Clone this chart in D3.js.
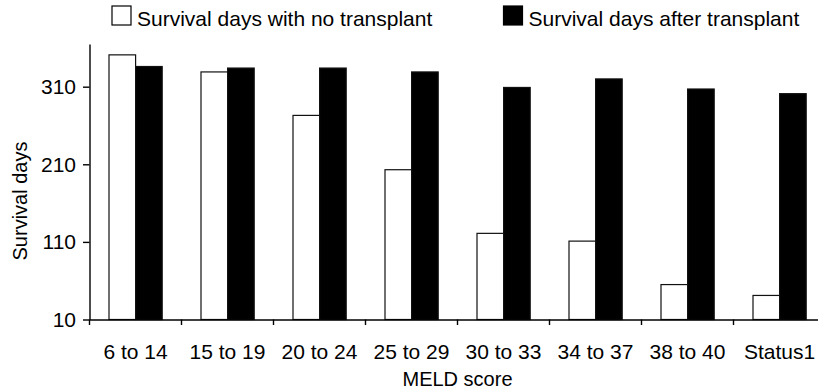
<!DOCTYPE html>
<html>
<head>
<meta charset="utf-8">
<script src="https://cdn.jsdelivr.net/npm/d3@7"></script>
<style>
  body { margin: 0; background: #fff; }
  svg { display: block; font-family: "Liberation Sans", Arial, sans-serif; }
</style>
</head>
<body>
<svg id="chart"></svg>
<script>
// data
const categories = ["6 to 14", "15 to 19", "20 to 24", "25 to 29", "30 to 33", "34 to 37", "38 to 40", "Status1"];
const noTransplant = [351, 329, 273, 203, 121, 111, 55, 41];
const afterTransplant = [336, 334, 334, 329, 309, 320, 307, 301];
const seriesNames = ["Survival days with no transplant", "Survival days after transplant"];
const yTicks = [10, 110, 210, 310];

const width = 818;
const height = 390;
const marginTop = 44;
const marginLeft = 89.5;
const marginBottom = 70.5;
const plotRight = 825.5; // the picture is cut off on the right

const rows = categories.map((c, i) => ({cat: c, values: [noTransplant[i], afterTransplant[i]]}));

const svg = d3.select("#chart")
    .attr("width", width)
    .attr("height", height)
    .attr("viewBox", [0, 0, width, height]);

const x = d3.scaleBand()
    .domain(categories)
    .range([marginLeft, plotRight]);

const xs = d3.scaleBand()
    .domain([0, 1])
    .range([19.5, 72.7]);

const y = d3.scaleLinear()
    .domain([10, 365])
    .range([height - marginBottom, marginTop]);

const fills = ["#fff", "#000"];

// bars
svg.append("g")
  .selectAll("g")
  .data(rows)
  .join("g")
    .attr("transform", d => `translate(${x(d.cat)},0)`)
  .selectAll("rect")
  .data(d => d.values.map((v, k) => ({k, v})))
  .join("rect")
    .attr("x", d => xs(d.k))
    .attr("y", d => y(d.v))
    .attr("width", xs.bandwidth())
    .attr("height", d => y(10) - y(d.v))
    .attr("fill", d => fills[d.k])
    .attr("stroke", "#111")
    .attr("stroke-width", 1.2);

// y axis
svg.append("g")
    .attr("transform", `translate(${marginLeft},0)`)
    .call(d3.axisLeft(y).tickValues(yTicks).tickSize(6.5).tickSizeOuter(0).tickPadding(7))
    .call(g => g.selectAll("path, line").attr("stroke", "#000").attr("stroke-width", 1.4))
    .call(g => g.selectAll("text").attr("font-size", 21).attr("fill", "#000").attr("font-family", null));

// x axis: labels at band centres, ticks at band edges
svg.append("g")
    .attr("transform", `translate(0,${height - marginBottom})`)
    .call(d3.axisBottom(x).tickSize(0).tickSizeOuter(0))
    .call(g => g.select(".domain").attr("stroke", "#000").attr("stroke-width", 1.4))
    .call(g => g.selectAll("text")
        .attr("dy", null)
        .attr("y", 39.5)
        .attr("font-size", 21)
        .attr("fill", "#000")
        .attr("font-family", null));

svg.append("g")
  .selectAll("line")
  .data(categories)
  .join("line")
    .attr("x1", d => x(d))
    .attr("x2", d => x(d))
    .attr("y1", y(10))
    .attr("y2", y(10) + 5.5)
    .attr("stroke", "#000")
    .attr("stroke-width", 1.4);

// axis titles
svg.append("text")
    .attr("x", (marginLeft + plotRight) / 2)
    .attr("y", 386)
    .attr("text-anchor", "middle")
    .attr("font-size", 20)
    .text("MELD score");

svg.append("text")
    .attr("transform", "translate(27,201) rotate(-90)")
    .attr("text-anchor", "middle")
    .attr("font-size", 20)
    .text("Survival days");

// legend
const legendX = [112, 503.5];
const legend = svg.append("g")
  .selectAll("g")
  .data(seriesNames)
  .join("g")
    .attr("transform", (d, i) => `translate(${legendX[i]},6)`);

legend.append("rect")
    .attr("width", 19)
    .attr("height", 19)
    .attr("fill", (d, i) => fills[i])
    .attr("stroke", "#000")
    .attr("stroke-width", 1.2);

legend.append("text")
    .attr("x", 25)
    .attr("y", 20)
    .attr("font-size", 21)
    .text(d => d);
</script>
</body>
</html>
